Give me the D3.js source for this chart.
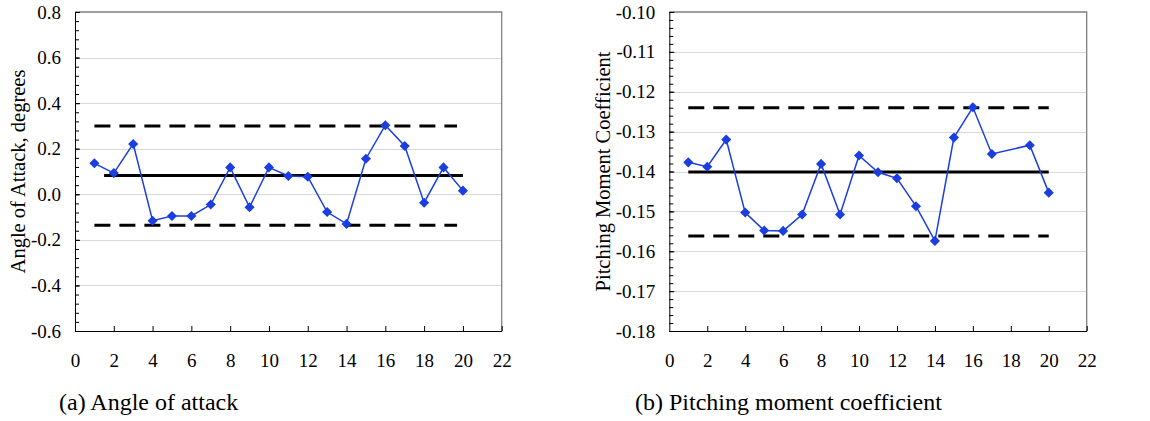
<!DOCTYPE html>
<html>
<head>
<meta charset="utf-8">
<script src="https://cdn.jsdelivr.net/npm/d3@7"></script>
<style>
  body { margin: 0; background: #fff; }
  svg { display: block; font-family: "Liberation Serif", "Times New Roman", serif; }
  .grid line { stroke: #d9d9d9; stroke-width: 1; }
  .axis path, .axis line { stroke: #000; }
</style>
</head>
<body>
<svg id="chart" width="1150" height="421"></svg>
<script>
// run numbers
const runsA = [1, 2, 3, 4, 5, 6, 7, 8, 9, 10, 11, 12, 13, 14, 15, 16, 17, 18, 19, 20];
const alphaValues = [0.136, 0.093, 0.221, -0.116, -0.095, -0.095, -0.045, 0.118, -0.057, 0.118,
  0.080, 0.077, -0.078, -0.130, 0.156, 0.303, 0.212, -0.037, 0.118, 0.016];
const alphaMean = 0.082;
const alphaLimits = [0.300, -0.136];

// run 18 missing in the pitching moment set
const runsB = [1, 2, 3, 4, 5, 6, 7, 8, 9, 10, 11, 12, 13, 14, 15, 16, 17, 19, 20];
const cmValues = [-0.1377, -0.1388, -0.1320, -0.1503, -0.1548, -0.1549, -0.1508, -0.1381, -0.1508, -0.1360,
  -0.1402, -0.1417, -0.1487, -0.1574, -0.1315, -0.1239, -0.1356, -0.1334, -0.1453];
const cmMean = -0.1401;
const cmLimits = [-0.1240, -0.1562];

const xTicks = [0, 2, 4, 6, 8, 10, 12, 14, 16, 18, 20, 22];
const alphaTicks = [-0.6, -0.4, -0.2, 0.0, 0.2, 0.4, 0.6, 0.8];
const cmTicks = [-0.18, -0.17, -0.16, -0.15, -0.14, -0.13, -0.12, -0.11, -0.10];

const svg = d3.select("#chart");

// plain hyphen like the original, not the unicode minus
const hyphenFormat = (spec) => (d) => d3.format(spec)(d).replace("\u2212", "-");

const panels = [
  {
    left: 75, right: 501.7, top: 12, bottom: 331,
    runs: runsA, values: alphaValues, mean: alphaMean, limits: alphaLimits,
    meanSpan: [1.5, 20], limitSpan: [1, 19.7],
    yDomain: [-0.6, 0.8], yTicks: alphaTicks, minorStep: 0.04, fmt: hyphenFormat(".1f"),
    yTitle: "Angle of Attack, degrees", titleX: 18,
    caption: "(a) Angle of attack", captionX: 59,
  },
  {
    left: 669.3, right: 1086.7, top: 12, bottom: 331,
    runs: runsB, values: cmValues, mean: cmMean, limits: cmLimits,
    meanSpan: [1, 20], limitSpan: [1, 20],
    yDomain: [-0.18, -0.10], yTicks: cmTicks, minorStep: 0.002, fmt: hyphenFormat(".2f"),
    yTitle: "Pitching Moment Coefficient", titleX: 603,
    caption: "(b) Pitching moment coefficient", captionX: 635,
  },
];

panels.forEach(drawPanel);

function styleAxisText(g) {
  g.attr("font-family", null).attr("font-size", null);
  g.selectAll("text")
    .style("font-family", '"Liberation Serif", serif')
    .style("font-size", "19px")
    .attr("fill", "#000");
}

function drawPanel(p) {
  const xScale = d3.scaleLinear().domain([0, 22]).range([p.left, p.right]);
  const yScale = d3.scaleLinear().domain(p.yDomain).range([p.bottom, p.top]);
  const h = p.bottom - p.top;

  // gridlines
  svg.append("g")
    .attr("class", "grid")
    .selectAll("line")
    .data(p.yTicks.slice(1, -1))
    .join("line")
    .attr("x1", p.left)
    .attr("x2", p.right)
    .attr("y1", (d) => Math.round(yScale(d)) + 0.5)
    .attr("y2", (d) => Math.round(yScale(d)) + 0.5);

  // frame top / right
  svg.append("path")
    .attr("d", `M${p.left},${p.top}H${p.right}V${p.bottom}`)
    .attr("fill", "none")
    .attr("stroke", "#808080")
    .attr("stroke-width", 1.3);

  // minor y ticks
  const nMinor = Math.round((p.yDomain[1] - p.yDomain[0]) / p.minorStep);
  const minorTicks = d3.range(nMinor + 1).map((i) => p.yDomain[0] + i * p.minorStep);
  svg.append("g")
    .attr("class", "axis")
    .attr("transform", `translate(${p.left},0)`)
    .call(d3.axisLeft(yScale).tickValues(minorTicks).tickSizeInner(-4).tickSizeOuter(0).tickFormat(""))
    .call((g) => g.select(".domain").remove());

  // y axis
  svg.append("g")
    .attr("class", "axis")
    .attr("transform", `translate(${p.left},0)`)
    .call(d3.axisLeft(yScale).tickValues(p.yTicks).tickFormat(p.fmt).tickSizeInner(-5).tickSizeOuter(0).tickPadding(14))
    .call(styleAxisText);

  // x axis
  svg.append("g")
    .attr("class", "axis")
    .attr("transform", `translate(0,${p.bottom})`)
    .call(d3.axisBottom(xScale).tickValues(xTicks).tickSizeInner(-5).tickSizeOuter(0).tickPadding(23))
    .call((g) => g.selectAll(".tick").filter((d) => d === 0).select("line").remove())
    .call(styleAxisText);

  // control limits
  svg.append("g")
    .selectAll("line")
    .data(p.limits)
    .join("line")
    .attr("x1", xScale(p.limitSpan[0]))
    .attr("x2", xScale(p.limitSpan[1]))
    .attr("y1", yScale)
    .attr("y2", yScale)
    .attr("stroke", "#000")
    .attr("stroke-width", 3)
    .attr("stroke-dasharray", "16,9");

  // mean
  svg.append("line")
    .attr("x1", xScale(p.meanSpan[0]))
    .attr("x2", xScale(p.meanSpan[1]))
    .attr("y1", yScale(p.mean))
    .attr("y2", yScale(p.mean))
    .attr("stroke", "#000")
    .attr("stroke-width", 3);

  // data series
  const points = p.runs.map((r, i) => ({ x: r, y: p.values[i] }));
  const lineGenerator = d3.line().x((d) => xScale(d.x)).y((d) => yScale(d.y));
  svg.append("path")
    .attr("d", lineGenerator(points))
    .attr("fill", "none")
    .attr("stroke", "#1a3ee0")
    .attr("stroke-width", 1.5);

  svg.append("g")
    .selectAll("path")
    .data(points)
    .join("path")
    .attr("d", d3.symbol(d3.symbolDiamond2, 65))
    .attr("transform", (d) => `translate(${xScale(d.x)},${yScale(d.y)})`)
    .attr("fill", "#1a3ee0");

  // y title
  svg.append("text")
    .attr("transform", `translate(${p.titleX},${p.top + h / 2}) rotate(-90)`)
    .attr("text-anchor", "middle")
    .attr("dy", "0.35em")
    .style("font-size", "20.5px")
    .text(p.yTitle);

  // caption
  svg.append("text")
    .attr("x", p.captionX)
    .attr("y", 410)
    .style("font-size", "24px")
    .text(p.caption);
}
</script>
</body>
</html>
